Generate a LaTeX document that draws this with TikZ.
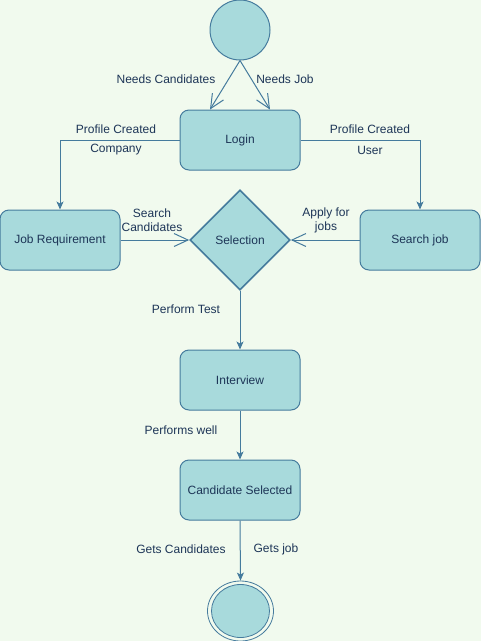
\documentclass[tikz,border=0pt]{standalone}
\usepackage{fontspec}
\setmainfont{Liberation Sans}
\usetikzlibrary{arrows.meta, shapes.geometric}

\definecolor{bgcol}{HTML}{F1FAEE}
\definecolor{fillcol}{HTML}{A8DADC}
\definecolor{linecol}{HTML}{457B9D}
\definecolor{textcol}{HTML}{1D3557}

\tikzset{
  state/.style={rectangle, rounded corners=9pt, draw=linecol, fill=fillcol,
    line width=1pt, minimum width=120pt, minimum height=60pt, text=textcol},
  choice/.style={diamond, draw=linecol, fill=fillcol, line width=1.6pt,
    inner sep=0pt, minimum width=100pt, minimum height=100pt, text=textcol},
  lbl/.style={text=textcol, align=center, inner sep=0pt},
  flow/.style={draw=linecol, line width=1pt, -{Stealth[length=8pt,width=7pt,inset=2pt]}},
  openflow/.style={draw=linecol, line width=1pt, -{Straight Barb[length=14pt,width=13pt]}},
}

\begin{document}
\begin{tikzpicture}[x=1pt, y=-1pt, font=\fontsize{12}{14}\selectfont]
            \fill[bgcol] (0,0) rectangle (481,641);
            \useasboundingbox (0,0) rectangle (481,641);
            % nodes
            \node[circle, draw=linecol, fill=fillcol, line width=1pt, minimum size=60pt] (start) at (240,30) {};
            \node[state] (login) at (240,140) {Login};
            \node[state] (jobreq) at (60,240) {Job Requirement};
            \node[choice] (select) at (240,240) {Selection};
            \node[state] (searchjob) at (420,240) {Search job};
            \node[state] (interview) at (240,380) {Interview};
            \node[state] (chosen) at (240,490) {Candidate Selected};
            \node[ellipse, draw=linecol, line width=0.8pt, minimum width=66pt, minimum height=60pt] (finish) at (240.5,611) {};
            \node[ellipse, draw=linecol, fill=fillcol, line width=0.8pt, minimum width=58pt, minimum height=53pt] (finishin) at (240.5,611) {};
            % connectors
            \draw[openflow] (start.south) -- ([xshift=-30pt]login.north);
            \draw[openflow] (start.south) -- ([xshift=30pt]login.north);
            \draw[flow] (login.west) -| (jobreq.north);
            \draw[flow] (login.east) -| (searchjob.north);
            \draw[openflow] (jobreq.east) -- (select.west);
            \draw[openflow] (searchjob.west) -- (select.east);
            \draw[flow] (select.south) -- (interview.north);
            \draw[flow] (interview.south) -- (chosen.north);
            \draw[flow] (chosen.south) -- (finish.north);
            % labels
            \node[lbl] (l1) at (166,79) {Needs Candidates};
            \node[lbl] (l2) at (285,79) {Needs Job};
            \node[lbl] (l3) at (116,129) {Profile Created};
            \node[lbl] (l4) at (116,150) {Company};
            \node[lbl] (l5) at (370,129) {Profile Created};
            \node[lbl] (l6) at (370,150) {User};
            \node[lbl] (l7) at (152,220) {Search\\Candidates};
            \node[lbl] (l8) at (326,220) {Apply for\\jobs};
            \node[lbl] (l9) at (186,309) {Perform Test};
            \node[lbl] (l10) at (181,430) {Performs well};
            \node[lbl] (l11) at (181,549) {Gets Candidates};
            \node[lbl] (l12) at (276,549) {Gets job};
        \end{tikzpicture}
\end{document}
